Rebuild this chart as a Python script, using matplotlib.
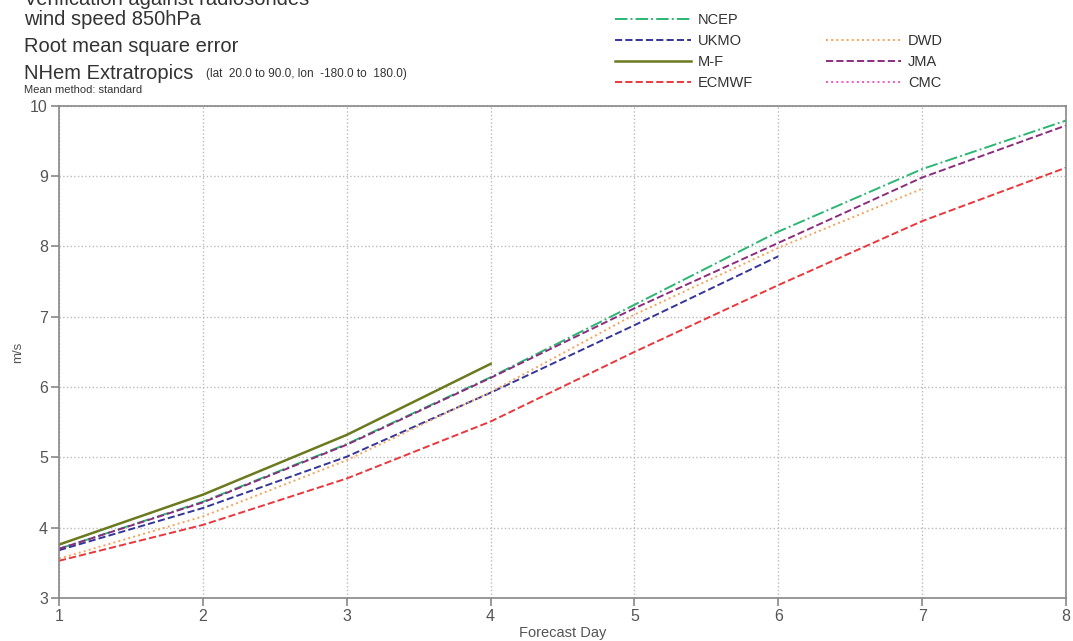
import numpy as np
import matplotlib.pyplot as plt
from matplotlib.lines import Line2D

plt.rcParams['font.family'] = ['Liberation Sans', 'DejaVu Sans']

# forecast days
days = [1, 2, 3, 4, 5, 6, 7, 8]

# rms error of wind speed 850hPa (m/s)
ncep = [3.70, 4.37, 5.19, 6.14, 7.17, 8.21, 9.10, 9.79]
ukmo = [3.68, 4.28, 5.01, 5.92, 6.88, 7.86]
mf = [3.76, 4.47, 5.32, 6.33]
ecmwf = [3.53, 4.04, 4.70, 5.51, 6.50, 7.45, 8.36, 9.12]
dwd = [3.56, 4.16, 4.96, 5.93, 7.03, 7.98, 8.82]
jma = [3.70, 4.36, 5.18, 6.13, 7.12, 8.05, 8.98, 9.72]
cmc = []

grey = '#555555'
fig = plt.figure(figsize=(10.73, 6.41), dpi=100)
ax = fig.add_axes([0.055, 0.067, 0.9385, 0.768])

l_ncep, = ax.plot(days[:len(ncep)], ncep, color='#2bb673', ls='-.', lw=1.4, label='NCEP')
l_ukmo, = ax.plot(days[:len(ukmo)], ukmo, color='#35359a', ls='--', lw=1.4, label='UKMO')
l_mf, = ax.plot(days[:len(mf)], mf, color='#6b7a1f', ls='-', lw=1.8, label='M-F')
l_ec, = ax.plot(days[:len(ecmwf)], ecmwf, color='#e8383d', ls='--', lw=1.4, label='ECMWF')
l_dwd, = ax.plot(days[:len(dwd)], dwd, color='#f5a35a', ls=':', lw=1.4, label='DWD')
l_jma, = ax.plot(days[:len(jma)], jma, color='#8b2d7e', ls='--', lw=1.4, label='JMA')
l_cmc, = ax.plot(days[:len(cmc)], cmc, color='#ee55cc', ls=':', lw=1.4, label='CMC')

ax.set_xlim(1, 8)
ax.set_ylim(3, 10)
ax.set_xticks(days)
ax.set_yticks(range(3, 11))
ax.grid(True, ls=':', color='#bbbbbb', lw=1)
for s in ax.spines.values():
    s.set_color('#888888')
    s.set_linewidth(1.2)
ax.tick_params(colors='#888888', labelcolor=grey, labelsize=11.5, length=6, width=1.2, pad=2)
ax.set_xlabel('Forecast Day', fontsize=10.5, color=grey, labelpad=1)
ax.set_ylabel('m/s', fontsize=9.5, color=grey, labelpad=4)

# title block
tc = '#333333'
fig.text(0.022, 1.001, 'Verification against radiosondes', fontsize=14.5, color=tc, va='center')
fig.text(0.022, 0.969, 'wind speed 850hPa', fontsize=14.5, color=tc, va='center')
fig.text(0.022, 0.928, 'Root mean square error', fontsize=14.5, color=tc, va='center')
fig.text(0.022, 0.886, 'NHem Extratropics', fontsize=14.5, color=tc, va='center')
fig.text(0.192, 0.884, '(lat  20.0 to 90.0, lon  -180.0 to  180.0)', fontsize=8.5, color=tc, va='center')
fig.text(0.022, 0.859, 'Mean method: standard', fontsize=8, color=tc, va='center')

blank = Line2D([], [], color='none')
handles = [l_ncep, l_ukmo, l_mf, l_ec, blank, l_dwd, l_jma, l_cmc]
labels = ['NCEP', 'UKMO', 'M-F', 'ECMWF', '', 'DWD', 'JMA', 'CMC']
leg = fig.legend(handles, labels, ncol=2, loc='upper left', bbox_to_anchor=(0.561, 1.0),
                 frameon=False, fontsize=10.5, handlelength=5.2, columnspacing=5.0,
                 labelspacing=0.47, handletextpad=0.45)
for t in leg.get_texts():
    t.set_color(tc)

plt.savefig('out.png', dpi=100)
